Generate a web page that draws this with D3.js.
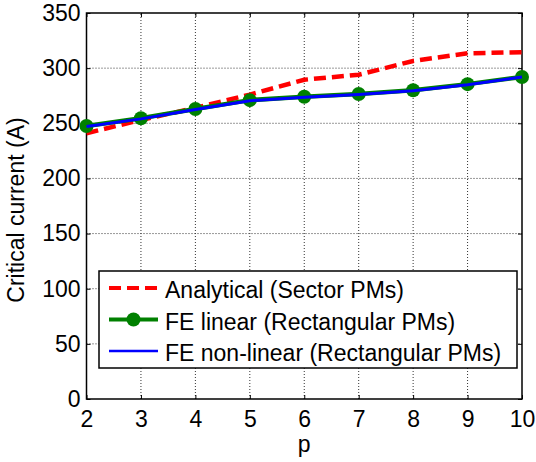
<!DOCTYPE html>
<html>
<head>
<meta charset="utf-8">
<script src="https://cdn.jsdelivr.net/npm/d3@7"></script>
<style>
  body { margin: 0; background: #fff; }
  svg { display: block; font-family: Arial, "Liberation Sans", sans-serif; }
</style>
</head>
<body>
<svg id="chart"></svg>
<script>
// p values and critical current (A)
var pValues = [2, 3, 4, 5, 6, 7, 8, 9, 10];
var analytical = [241, 253, 264, 276, 289.5, 294, 306.5, 313.5, 314.5];
var feLinear = [247.5, 254.5, 263, 271, 274, 276.5, 280, 285.5, 292];
var feNonLinear = [247, 254, 262.5, 270.5, 273.5, 276, 279.5, 285, 292];
var yTicks = [0, 50, 100, 150, 200, 250, 300, 350];

var seriesNames = ['Analytical (Sector PMs)', 'FE linear (Rectangular PMs)', 'FE non-linear (Rectangular PMs)'];

var width = 536, height = 462;
var margin = {left: 86.5, right: 14, top: 13, bottom: 63};

var svg = d3.select('#chart')
  .attr('width', width)
  .attr('height', height);

var x = d3.scaleLinear()
  .domain([2, 10])
  .range([margin.left, width - margin.right]);

var y = d3.scaleLinear()
  .domain([0, 350])
  .range([height - margin.bottom, margin.top]);

// grid
var grid = svg.append('g');
grid.selectAll('.vgrid')
  .data(pValues.slice(1, -1))
  .enter().append('line')
  .attr('x1', d => x(d)).attr('x2', d => x(d))
  .attr('y1', y(0)).attr('y2', y(350))
  .attr('stroke', '#333').attr('stroke-width', 1)
  .attr('stroke-dasharray', '1,2');
grid.selectAll('.hgrid')
  .data(yTicks.slice(1, -1))
  .enter().append('line')
  .attr('x1', x(2)).attr('x2', x(10))
  .attr('y1', d => y(d)).attr('y2', d => y(d))
  .attr('stroke', '#333').attr('stroke-width', 1)
  .attr('stroke-dasharray', '1,2');

// axes (ticks pointing inward, box all round)
var fontSize = '23px';
var xAxis = svg.append('g')
  .attr('transform', 'translate(0,' + y(0) + ')')
  .call(d3.axisBottom(x).tickValues(pValues).tickSizeInner(-4).tickSizeOuter(0).tickPadding(12));
var yAxis = svg.append('g')
  .attr('transform', 'translate(' + x(2) + ',0)')
  .call(d3.axisLeft(y).tickValues(yTicks).tickSizeInner(-4).tickSizeOuter(0).tickPadding(6));
svg.append('g')
  .attr('transform', 'translate(0,' + y(350) + ')')
  .call(d3.axisTop(x).tickValues(pValues).tickSizeInner(-4).tickSizeOuter(0).tickFormat(''));
svg.append('g')
  .attr('transform', 'translate(' + x(10) + ',0)')
  .call(d3.axisRight(y).tickValues(yTicks).tickSizeInner(-4).tickSizeOuter(0).tickFormat(''));

svg.selectAll('.domain').remove();
svg.selectAll('.tick line').attr('stroke', '#000');
[xAxis, yAxis].forEach(a => a.selectAll('text')
  .attr('fill', '#000')
  .style('font-size', fontSize)
  .style('font-family', 'Arial, "Liberation Sans", sans-serif'));

svg.append('rect')
  .attr('x', x(2)).attr('y', y(350))
  .attr('width', x(10) - x(2)).attr('height', y(0) - y(350))
  .attr('fill', 'none').attr('stroke', '#000').attr('stroke-width', 1.5);

// axis labels
svg.append('text')
  .attr('x', (x(2) + x(10)) / 2).attr('y', 452)
  .attr('text-anchor', 'middle')
  .style('font-size', fontSize)
  .text('p');
svg.append('text')
  .attr('transform', 'translate(24,' + ((y(0) + y(350)) / 2 + 4) + ') rotate(-90)')
  .attr('text-anchor', 'middle')
  .style('font-size', fontSize)
  .text('Critical current (A)');

// lines
var line = d3.line().x((d, i) => x(pValues[i])).y(d => y(d));

svg.append('path')
  .datum(analytical)
  .attr('d', line)
  .attr('fill', 'none').attr('stroke', '#ff0000').attr('stroke-width', 4.5)
  .attr('stroke-dasharray', '12,6');

svg.append('path')
  .datum(feLinear)
  .attr('d', line)
  .attr('fill', 'none').attr('stroke', '#008000').attr('stroke-width', 4.5);
svg.selectAll('.dot')
  .data(feLinear)
  .enter().append('circle')
  .attr('cx', (d, i) => x(pValues[i]))
  .attr('cy', d => y(d))
  .attr('r', 7)
  .attr('fill', '#008000');

svg.append('path')
  .datum(feNonLinear)
  .attr('d', line)
  .attr('fill', 'none').attr('stroke', '#0000ff').attr('stroke-width', 3);

// legend
var legend = svg.append('g');
legend.append('rect')
  .attr('x', 99).attr('y', 271)
  .attr('width', 418).attr('height', 97)
  .attr('fill', '#fff').attr('stroke', '#000').attr('stroke-width', 1.5);

var legendRows = [
  {name: seriesNames[0], color: '#ff0000', dash: '12,6', w: 4, dot: false},
  {name: seriesNames[1], color: '#008000', dash: null, w: 4, dot: true},
  {name: seriesNames[2], color: '#0000ff', dash: null, w: 2.5, dot: false}
];
legendRows.forEach((r, i) => {
  var cy = 288 + i * 31.5;
  legend.append('line')
    .attr('x1', 109).attr('x2', 158)
    .attr('y1', cy).attr('y2', cy)
    .attr('stroke', r.color).attr('stroke-width', r.w)
    .attr('stroke-dasharray', r.dash);
  if (r.dot) {
    legend.append('circle').attr('cx', 133.5).attr('cy', cy).attr('r', 7).attr('fill', r.color);
  }
  legend.append('text')
    .attr('x', 165).attr('y', cy + 10)
    .style('font-size', fontSize)
    .text(r.name);
});
</script>
</body>
</html>
